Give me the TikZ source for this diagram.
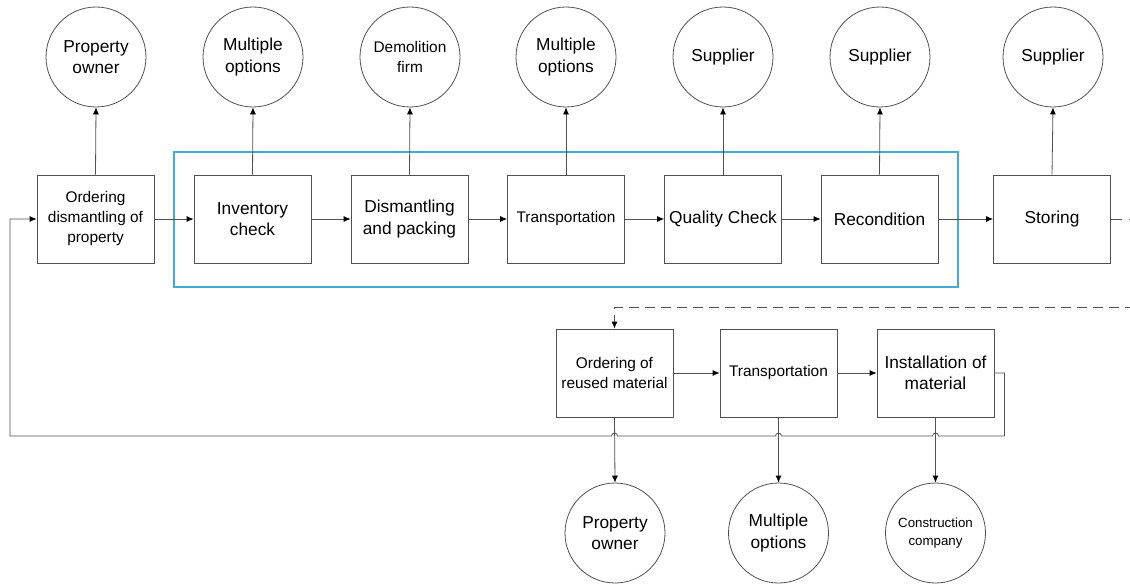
\documentclass[tikz,border=0pt]{standalone}
\usepackage{fontspec}
\setmainfont{Liberation Sans}
\usetikzlibrary{arrows.meta,calc}
\definecolor{edge}{RGB}{80,80,80}
\definecolor{frame}{RGB}{72,170,204}

\begin{document}
\begin{tikzpicture}[x=1pt,y=-1pt,
  big/.style={font=\fontsize{17.3}{21.6}\selectfont},
  mid/.style={font=\fontsize{15.4}{20}\selectfont},
  small/.style={font=\fontsize{13.3}{17.7}\selectfont},
  proc/.style={draw=edge,line width=0.8pt,minimum width=117pt,minimum height=88pt,
    inner sep=0pt,align=center},
  actor/.style={draw=edge,circle,line width=0.8pt,minimum size=100pt,inner sep=0pt,align=center},
  wire/.style={draw=edge,line width=0.8pt},
  link/.style={wire,-{Latex[length=7pt,width=6pt,color=black]}},
  dashy/.style={dash pattern=on 10pt off 6pt}
]
\useasboundingbox (0,0) rectangle (1130,586);

% grouping frame around the dismantling and processing steps
\draw[frame,line width=1.6pt] (174,152) rectangle (958,287);

% upper process chain
\node[proc,mid] (ordprop) at (95.5,219) {Ordering\\dismantling of\\property};
\node[proc,big] (inv) at (252.5,219) {Inventory\\check};
\node[proc,big] (dism) at (409.5,219) {Dismantling\\and packing};
\node[proc,mid] (trans) at (566,219) {Transportation};
\node[proc,big] (qual) at (723,219) {Quality Check};
\node[proc,big] (recon) at (879.5,219) {Recondition};
\node[proc,big] (stor) at (1052,219) {Storing};

% actors responsible for each upper step
\node[actor,big] (a1) at (96,57) {Property\\owner};
\node[actor,big] (a2) at (253,57) {Multiple\\options};
\node[actor,mid] (a3) at (410,57) {Demolition\\firm};
\node[actor,big] (a4) at (566,57) {Multiple\\options};
\node[actor,big] (a5) at (723,57) {Supplier};
\node[actor,big] (a6) at (880,57) {Supplier};
\node[actor,big] (a7) at (1053,57) {Supplier};

% lower process chain
\node[proc,mid] (reord) at (614.5,373) {Ordering of\\reused material};
\node[proc,mid] (trans2) at (778.5,373) {Transportation};
\node[proc,big] (inst) at (935.5,373) {Installation of\\material};

% actors responsible for each lower step
\node[actor,big] (b1) at (615,533) {Property\\owner};
\node[actor,big] (b2) at (778.5,533) {Multiple\\options};
\node[actor,small] (b3) at (935.5,533) {Construction\\company};

% flow arrows along the upper chain
\draw[link] (ordprop) -- (inv);
\draw[link] (inv) -- (dism);
\draw[link] (dism) -- (trans);
\draw[link] (trans) -- (qual);
\draw[link] (qual) -- (recon);
\draw[link] (recon) -- (stor);

% step to actor
\draw[link] (ordprop.north) -- (a1.south);
\draw[link] (inv.north) -- (a2.south);
\draw[link] (dism.north) -- (a3.south);
\draw[link] (trans.north) -- (a4.south);
\draw[link] (qual.north) -- (a5.south);
\draw[link] (recon.north) -- (a6.south);
\draw[link] (stor.north) -- (a7.south);

% flow along the lower chain
\draw[link] (reord) -- (trans2);
\draw[link] (trans2) -- (inst);
\draw[link] (reord.south) -- (b1.north);
\draw[link] (trans2.south) -- (b2.north);
\draw[link] (inst.south) -- (b3.north);

% storage continues off to the right, dashed
\coordinate (sout) at (1140,219);
\draw[wire,dash pattern=on 11pt off 7pt] (stor.east) -- (sout);
\coordinate (din) at (1135,307);
\draw[link,dashy] (din) -- (din -| reord.north) -- (reord.north);

% feedback loop from installation back to the start, hopping over the actor links
\coordinate (lb) at (10,436);
\draw[link] (inst.east) -- ++(10,0) coordinate (lr) -- (lr |- lb)
  -- ($(inst.south |- lb)+(3,0)$) arc[start angle=0,end angle=-180,radius=3]
  -- ($(trans2.south |- lb)+(3,0)$) arc[start angle=0,end angle=-180,radius=3]
  -- ($(reord.south |- lb)+(3,0)$) arc[start angle=0,end angle=-180,radius=3]
  -- (lb) -- (lb |- ordprop.west) -- (ordprop.west);
\end{tikzpicture}
\end{document}
